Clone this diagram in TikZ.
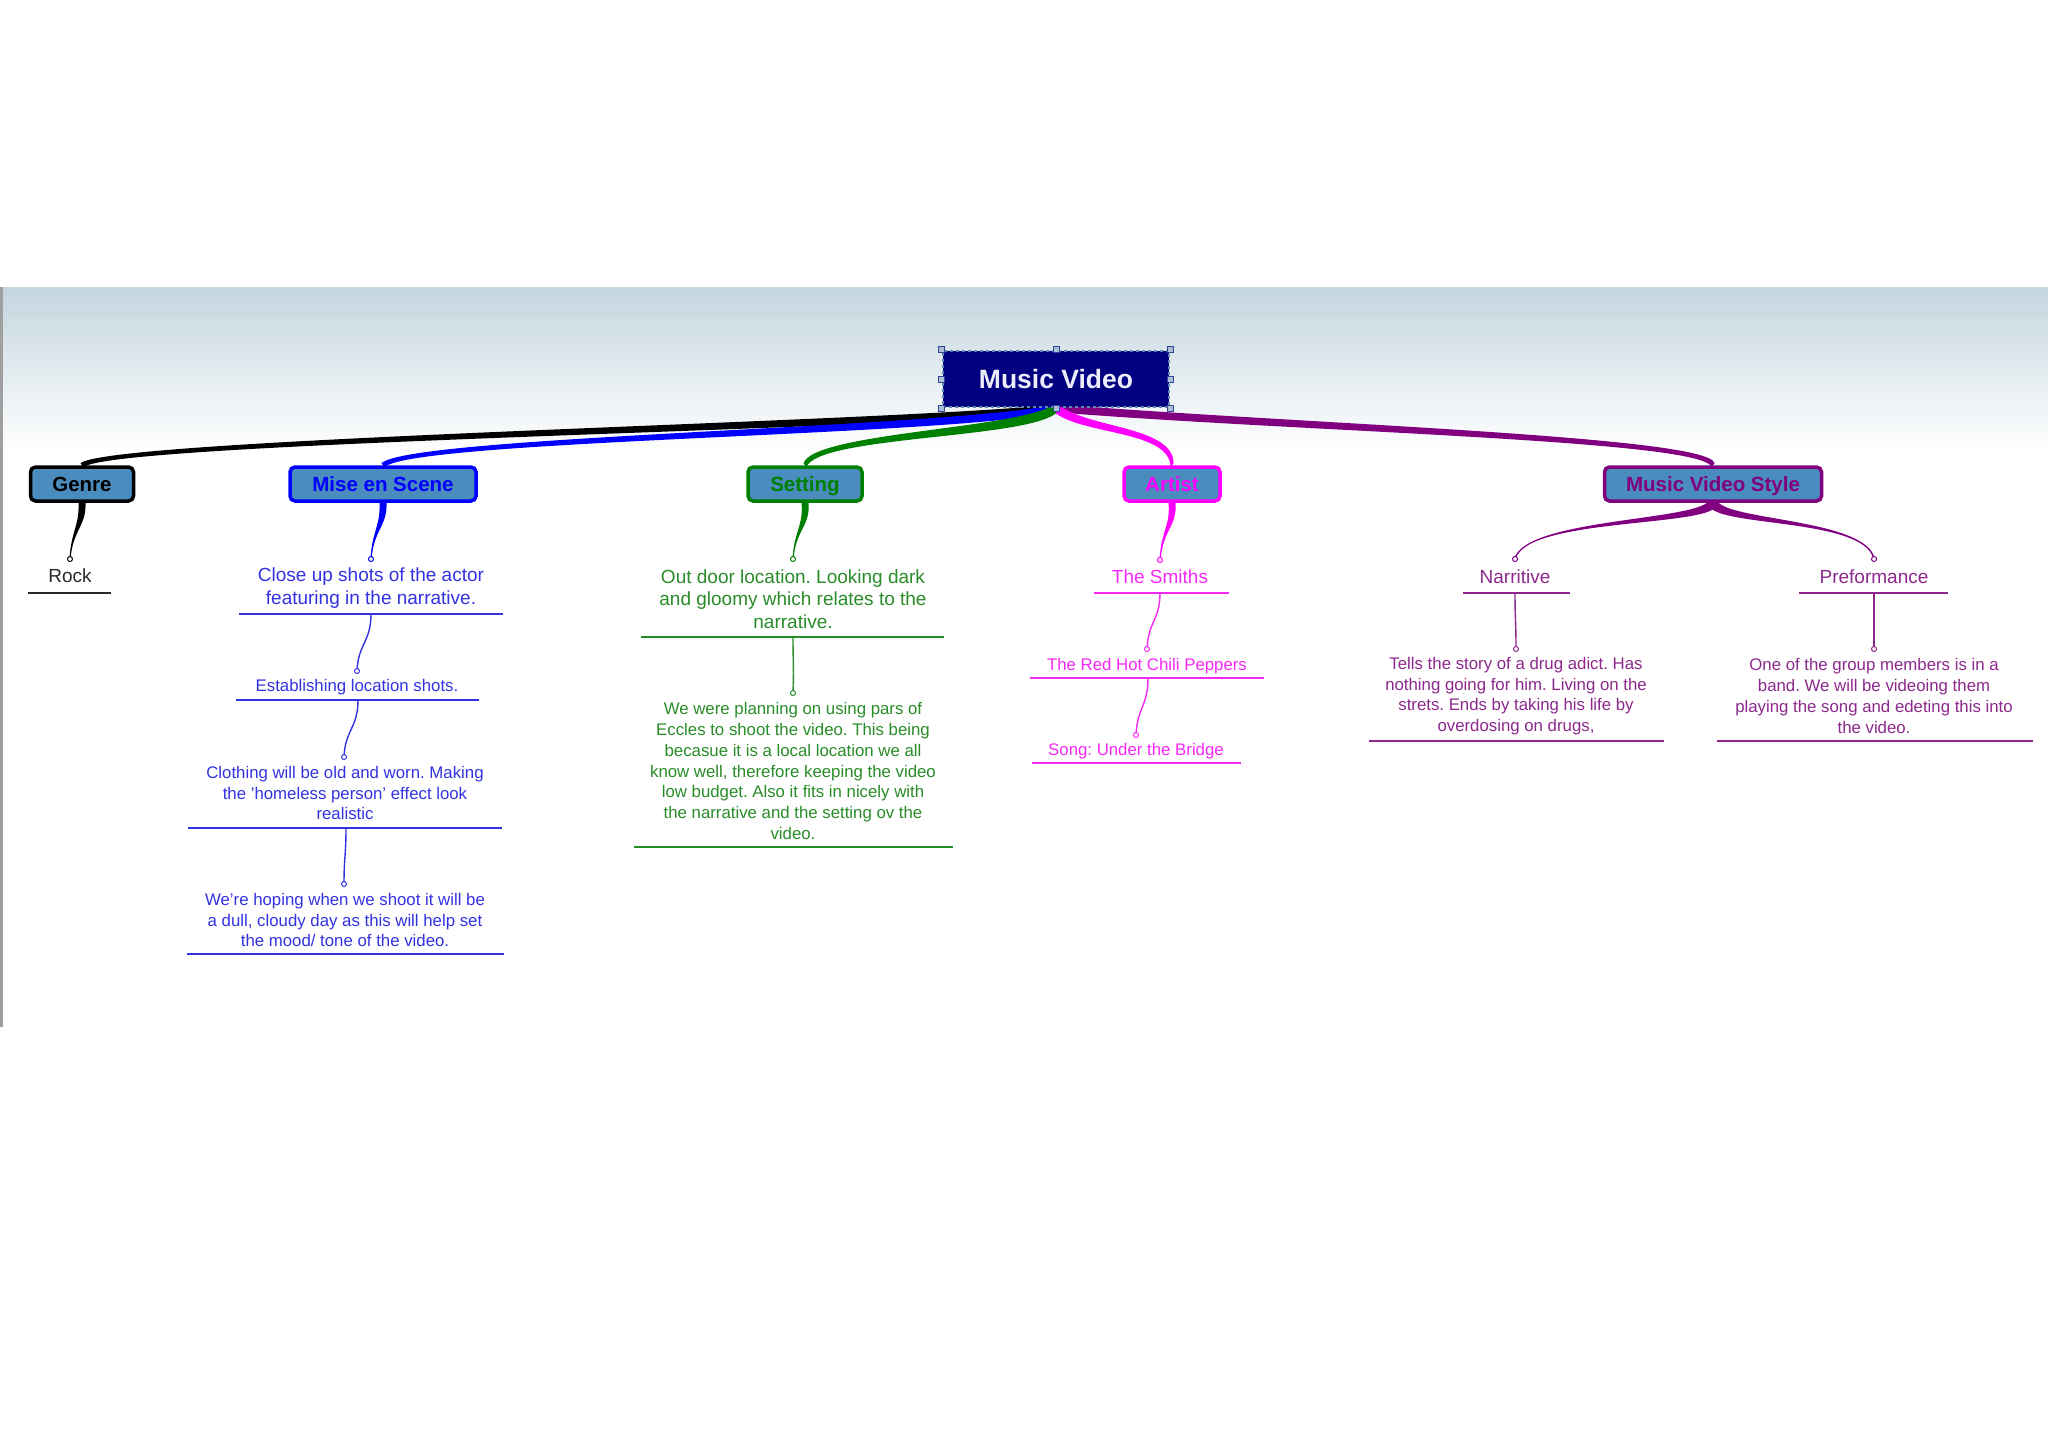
\documentclass[tikz,border=0pt]{standalone}
\usepackage{fontspec}
\setmainfont{Liberation Sans}
\usetikzlibrary{calc}
\pgfdeclarelayer{bg}
\pgfdeclarelayer{links}
\pgfsetlayers{bg,links,main}
\definecolor{boxfill}{RGB}{74,140,190}
\definecolor{gradtop}{RGB}{195,213,222}
\definecolor{gradmid}{RGB}{224,233,238}
\definecolor{rootfill}{RGB}{0,0,128}
\definecolor{rootedge}{RGB}{96,136,180}
\definecolor{handlefill}{RGB}{170,190,215}
\definecolor{handleedge}{RGB}{50,70,150}
\definecolor{roottext}{RGB}{236,236,250}
\definecolor{cgenre}{RGB}{0,0,0}
\definecolor{cmise}{RGB}{0,0,255}
\definecolor{cset}{RGB}{0,128,0}
\definecolor{cart}{RGB}{255,0,255}
\definecolor{cmvs}{RGB}{128,0,128}
\definecolor{crock}{RGB}{40,40,40}
\definecolor{cmisel}{RGB}{50,50,225}
\definecolor{csetl}{RGB}{40,140,40}
\definecolor{cartl}{RGB}{245,40,245}
\definecolor{cmvsl}{RGB}{140,40,140}
\frenchspacing
\newcommand{\mmtaper}[7]{\fill[#1] ($#2+#6$) .. controls ($#3+#6$) and ($#4+#7$) .. ($#5+#7$) -- ($#5-#7$) .. controls ($#4-#7$) and ($#3-#6$) .. ($#2-#6$) -- cycle;}
\tikzset{
  topbox/.style={rectangle, rounded corners=5pt, line width=3.5pt, fill=boxfill, inner sep=0pt, minimum height=34pt, text height=15pt, text depth=0pt, font=\fontsize{20.5}{24}\selectfont\bfseries},
  rootbox/.style={rectangle, fill=rootfill, draw=rootedge, dashed, line width=2.5pt, inner sep=0pt, minimum width=226pt, minimum height=56pt, text height=19pt, text depth=0pt, text=roottext, font=\fontsize{26.5}{30}\selectfont\bfseries},
  handle/.style={rectangle, draw=handleedge, fill=handlefill, line width=1pt, minimum size=6pt, inner sep=0pt},
  leafA/.style={align=center, inner sep=0pt, font=\fontsize{19}{22.5}\selectfont},
  leafB/.style={align=center, inner sep=0pt, font=\fontsize{16.8}{20.7}\selectfont},
  ul/.style={line width=1.5pt},
  conn/.style={line width=1.4pt},
  dotc/.style={circle, fill=white, line width=1pt, minimum size=5pt, inner sep=0pt},
}
\begin{document}
\begin{tikzpicture}[x=1pt, y=-1pt]
\useasboundingbox (0,0) rectangle (2048,1448);
% background panel
\begin{pgfonlayer}{bg}
\shade[top color=gradtop, bottom color=gradmid] (0,287) rectangle (2048,365);
\shade[top color=gradmid, bottom color=white] (0,365) rectangle (2048,452);
\fill[gray!75] (0,287) rectangle (3,1027);
\end{pgfonlayer}

% top-level nodes
\node[rootbox] (root) at (1056,379) {Music Video};
\foreach \p/\n in {north west/h1, north/h2, north east/h3, east/h4, south east/h5, south/h6, south west/h7, west/h8}
  \node[handle] (\n) at (root.\p) {};

\node[topbox, draw=cgenre, text=cgenre, minimum width=103pt] (genre) at (82,484) {Genre};
\node[topbox, draw=cmise, text=cmise, minimum width=186pt] (mise) at (383,484) {Mise en Scene};
\node[topbox, draw=cset, text=cset, minimum width=114pt] (setting) at (805,484) {Setting};
\node[topbox, draw=cart, text=cart, minimum width=96pt] (artist) at (1172,484) {Artist};
\node[topbox, draw=cmvs, text=cmvs, minimum width=217pt] (mvs) at (1713,484) {Music Video Style};

% main tapered branches
\begin{pgfonlayer}{links}
\mmtaper{cmvs}{(root.south)}{(1300,428)}{(1708,438)}{(mvs.north)}{(0,4)}{(-1.5,2)}
\mmtaper{cart}{(root.south)}{(1085,432)}{(1172,428)}{(artist.north)}{(-2.5,3.5)}{(-1.5,2)}
\mmtaper{cgenre}{(root.south)}{(900,426)}{(110,440)}{(genre.north)}{(0,4)}{(1.5,2)}
\mmtaper{cmise}{(root.south)}{(950,432)}{(410,438)}{(mise.north)}{(0,4)}{(1.5,2)}
\mmtaper{cset}{(root.south)}{(1025,434)}{(815,434)}{(setting.north)}{(0,5)}{(1.5,2)}
\end{pgfonlayer}

% leaf nodes
\node[leafA, text=crock] (rock) at (70,576) {Rock};
\node[leafA, text=cmisel] (mis1) at (371,588) {Close up shots of the actor\\featuring in the narrative.};
\node[leafB, text=cmisel] (mis2) at (357,687) {Establishing location shots.};
\node[leafB, text=cmisel] (mis3) at (345,793) {Clothing will be old and worn. Making\\the 'homeless person' effect look\\realistic};
\node[leafB, text=cmisel] (mis4) at (345,920) {We're hoping when we shoot it will be\\a dull, cloudy day as this will help set\\the mood/ tone of the video.};
\node[leafA, text=csetl] (set1) at (793,599) {Out door location. Looking dark\\and gloomy which relates to the\\narrative.};
\node[leafB, text=csetl] (set2) at (793,771) {We were planning on using pars of\\Eccles to shoot the video. This being\\becasue it is a local location we all\\know well, therefore keeping the video\\low budget. Also it fits in nicely with\\the narrative and the setting ov the\\video.};
\node[leafA, text=cartl] (art1) at (1160,577) {The Smiths};
\node[leafB, text=cartl] (art2) at (1147,666) {The Red Hot Chili Peppers};
\node[leafB, text=cartl] (art3) at (1136,751) {Song: Under the Bridge};
\node[leafA, text=cmvsl] (mvs1) at (1515,577) {Narritive};
\node[leafB, text=cmvsl] (mvs2) at (1516,696) {Tells the story of a drug adict. Has\\nothing going for him. Living on the\\strets. Ends by taking his life by\\overdosing on drugs,};
\node[leafA, text=cmvsl] (mvs3) at (1874,577) {Preformance};
\node[leafB, text=cmvsl] (mvs4) at (1874,696) {One of the group members is in a\\band. We will be videoing them\\playing the song and edeting this into\\the video.};

% underlines
\draw[ul, crock] (28,593) -- (111,593);
\draw[ul, cmisel] (239,614) -- (503,614);
\draw[ul, cmisel] (236,700) -- (479,700);
\draw[ul, cmisel] (188,828) -- (502,828);
\draw[ul, cmisel] (187,954) -- (504,954);
\draw[ul, csetl] (641,637) -- (944,637);
\draw[ul, csetl] (634,847) -- (953,847);
\draw[ul, cartl] (1094,593) -- (1229,593);
\draw[ul, cartl] (1030,678) -- (1264,678);
\draw[ul, cartl] (1032,763) -- (1241,763);
\draw[ul, cmvsl] (1463,593) -- (1570,593);
\draw[ul, cmvsl] (1369,741) -- (1664,741);
\draw[ul, cmvsl] (1799,593) -- (1948,593);
\draw[ul, cmvsl] (1717,741) -- (2033,741);

% attachment coordinates (under lines) and child dots
\coordinate (u-mis1) at (371,614);
\coordinate (u-mis2) at (358,700);
\coordinate (u-mis3) at (346,828);
\coordinate (u-set1) at (793,637);
\coordinate (u-art1) at (1160,593);
\coordinate (u-art2) at (1148,678);
\coordinate (u-mvs1) at (1515,593);
\coordinate (u-mvs3) at (1874,593);
\coordinate (k-rock) at (70,559);
\coordinate (k-mis1) at (371,559);
\coordinate (k-mis2) at (357,671);
\coordinate (k-mis3) at (344,757);
\coordinate (k-mis4) at (344,884);
\coordinate (k-set1) at (793,559);
\coordinate (k-set2) at (793,693);
\coordinate (k-art1) at (1160,560);
\coordinate (k-art2) at (1147,649);
\coordinate (k-art3) at (1136,735);
\coordinate (k-mvs1) at (1515,559);
\coordinate (k-mvs2) at (1516,649);
\coordinate (k-mvs3) at (1874,559);
\coordinate (k-mvs4) at (1874,649);

% tapered sub-branches from boxes
\begin{pgfonlayer}{links}
\mmtaper{cgenre}{(genre.south)}{(83,526)}{(72,530)}{(k-rock)}{(3.5,0)}{(0.6,0)}
\mmtaper{cmise}{(mise.south)}{(384,526)}{(373,530)}{(k-mis1)}{(3.5,0)}{(0.6,0)}
\mmtaper{cset}{(setting.south)}{(807,526)}{(795,530)}{(k-set1)}{(3.5,0)}{(0.6,0)}
\mmtaper{cart}{(artist.south)}{(1174,526)}{(1162,530)}{(k-art1)}{(3.5,0)}{(0.6,0)}
\mmtaper{cmvs}{(mvs.south)}{(1705,524)}{(1525,518)}{(k-mvs1)}{(3.5,3)}{(0.8,0)}
\mmtaper{cmvs}{(mvs.south)}{(1720,524)}{(1866,518)}{(k-mvs3)}{(3.5,-3)}{(0.8,0)}
\end{pgfonlayer}

% thin connectors between leaves
\draw[conn, cmisel] (u-mis1) .. controls (371,642) and (358,644) .. (k-mis2);
\draw[conn, cmisel] (u-mis2) .. controls (358,728) and (345,730) .. (k-mis3);
\draw[conn, cmisel] (u-mis3) .. controls (346,856) and (344,856) .. (k-mis4);
\draw[conn, csetl] (u-set1) .. controls (793,665) and (794,665) .. (k-set2);
\draw[conn, cartl] (u-art1) .. controls (1160,620) and (1148,622) .. (k-art2);
\draw[conn, cartl] (u-art2) .. controls (1148,706) and (1137,708) .. (k-art3);
\draw[conn, cmvsl] (u-mvs1) .. controls (1515,620) and (1516,620) .. (k-mvs2);
\draw[conn, cmvsl] (u-mvs3) .. controls (1874,620) and (1874,620) .. (k-mvs4);

% small dots at connector ends
\node[dotc, draw=cgenre] (d-rock) at (k-rock) {};
\node[dotc, draw=cmise] (d-mis1) at (k-mis1) {};
\node[dotc, draw=cmisel] (d-mis2) at (k-mis2) {};
\node[dotc, draw=cmisel] (d-mis3) at (k-mis3) {};
\node[dotc, draw=cmisel] (d-mis4) at (k-mis4) {};
\node[dotc, draw=cset] (d-set1) at (k-set1) {};
\node[dotc, draw=csetl] (d-set2) at (k-set2) {};
\node[dotc, draw=cart] (d-art1) at (k-art1) {};
\node[dotc, draw=cartl] (d-art2) at (k-art2) {};
\node[dotc, draw=cartl] (d-art3) at (k-art3) {};
\node[dotc, draw=cmvs] (d-mvs1) at (k-mvs1) {};
\node[dotc, draw=cmvsl] (d-mvs2) at (k-mvs2) {};
\node[dotc, draw=cmvs] (d-mvs3) at (k-mvs3) {};
\node[dotc, draw=cmvsl] (d-mvs4) at (k-mvs4) {};
\end{tikzpicture}
\end{document}
